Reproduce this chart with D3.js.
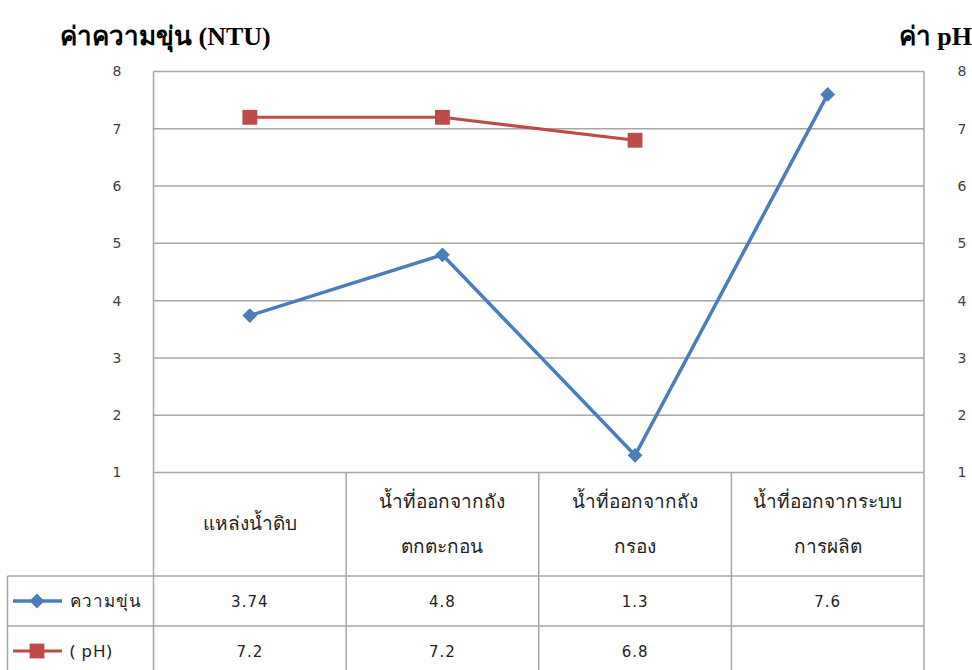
<!DOCTYPE html>
<html>
<head>
<meta charset="utf-8">
<script src="https://cdn.jsdelivr.net/npm/d3@7"></script>
<style>
  body { margin: 0; background: #fff; }
  svg { display: block; }
</style>
</head>
<body>
<svg id="chart" width="972" height="670"></svg>
<script>
const categories = [
  ['แหล่งน้ำดิบ'],
  ['น้ำที่ออกจากถัง', 'ตกตะกอน'],
  ['น้ำที่ออกจากถัง', 'กรอง'],
  ['น้ำที่ออกจากระบบ', 'การผลิต']
];
const turbidity = [3.74, 4.8, 1.3, 7.6];
const ph = [7.2, 7.2, 6.8, null];
const yTicks = [1, 2, 3, 4, 5, 6, 7, 8];
const seriesNames = ['ความขุ่น', '( pH)'];

const blue = '#4a7ebb';
const red = '#be4b48';
const grid_color = '#a6a6a6';
const label_font = '"DejaVu Sans", Tahoma, sans-serif';
const thai_font = 'Tahoma, "Noto Sans", "DejaVu Sans", sans-serif';

const plot_left = 153.5, plot_right = 924, plot_top = 71.5, plot_bottom = 472.5;
const header_bottom = 576, row_h = 50, table_left = 7.5;

const svg = d3.select('#chart');

const x = d3.scaleBand()
  .domain(d3.range(categories.length))
  .range([plot_left, plot_right]);

const y = d3.scaleLinear().domain([1, 8]).range([plot_bottom, plot_top]);
const y2 = d3.scaleLinear().domain([1, 8]).range([plot_bottom, plot_top]);

// gridlines
svg.append('g')
  .selectAll('line')
  .data(yTicks)
  .join('line')
  .attr('x1', plot_left).attr('x2', plot_right)
  .attr('y1', d => y(d)).attr('y2', d => y(d))
  .attr('stroke', grid_color).attr('stroke-width', 1.5);

// plot border (left & right)
svg.append('line')
  .attr('x1', plot_left).attr('x2', plot_left)
  .attr('y1', plot_top).attr('y2', 670)
  .attr('stroke', grid_color).attr('stroke-width', 1.5);
svg.append('line')
  .attr('x1', plot_right).attr('x2', plot_right)
  .attr('y1', plot_top).attr('y2', 670)
  .attr('stroke', grid_color).attr('stroke-width', 1.5);

// axis tick labels
const leftAxis = d3.axisLeft(y).tickValues(yTicks).tickFormat(d3.format('d')).tickSize(0).tickPadding(0);
svg.append('g')
  .attr('transform', 'translate(117,0)')
  .call(leftAxis)
  .call(g => g.select('.domain').remove())
  .call(g => g.selectAll('text')
    .attr('text-anchor', 'middle')
    .attr('font-family', label_font).attr('font-size', 14).attr('fill', '#404040'));

const rightAxis = d3.axisRight(y2).tickValues(yTicks).tickFormat(d3.format('d')).tickSize(0).tickPadding(0);
svg.append('g')
  .attr('transform', 'translate(962,0)')
  .call(rightAxis)
  .call(g => g.select('.domain').remove())
  .call(g => g.selectAll('text')
    .attr('text-anchor', 'middle')
    .attr('font-family', label_font).attr('font-size', 14).attr('fill', '#404040'));

// titles
svg.append('text')
  .attr('x', 60).attr('y', 45)
  .attr('font-family', '"Liberation Serif", "Times New Roman", serif')
  .attr('font-weight', 'bold').attr('font-size', 26)
  .text('ค่าความขุ่น (NTU)');
svg.append('text')
  .attr('x', 972).attr('y', 45).attr('text-anchor', 'end')
  .attr('font-family', '"Liberation Serif", "Times New Roman", serif')
  .attr('font-weight', 'bold').attr('font-size', 26)
  .text('ค่า pH');

// data table lines
const table = svg.append('g').attr('stroke', grid_color).attr('stroke-width', 1.5);
[header_bottom, header_bottom + row_h].forEach(yy => {
  table.append('line').attr('x1', table_left).attr('x2', plot_right).attr('y1', yy).attr('y2', yy);
});
table.append('line').attr('x1', table_left).attr('x2', table_left).attr('y1', header_bottom).attr('y2', 670);
table.selectAll('line.col')
  .data(d3.range(1, categories.length))
  .join('line')
  .attr('class', 'col')
  .attr('x1', d => x(d)).attr('x2', d => x(d))
  .attr('y1', plot_bottom).attr('y2', 670);

// category headers
const header_mid = (plot_bottom + header_bottom) / 2;
categories.forEach((lines, i) => {
  const t = svg.append('text')
    .attr('text-anchor', 'middle')
    .attr('font-family', thai_font).attr('font-size', 19).attr('fill', '#222');
  lines.forEach((ln, j) => {
    t.append('tspan')
      .attr('x', x(i) + x.bandwidth() / 2)
      .attr('y', header_mid + 6 + (j - (lines.length - 1) / 2) * 45)
      .text(ln);
  });
});

// table values
[turbidity, ph].forEach((vals, r) => {
  svg.append('g')
    .selectAll('text')
    .data(vals)
    .join('text')
    .attr('x', (d, i) => x(i) + x.bandwidth() / 2)
    .attr('y', header_bottom + row_h * r + row_h / 2 + 6)
    .attr('text-anchor', 'middle')
    .attr('font-family', label_font).attr('font-size', 15).attr('fill', '#222')
    .attr('letter-spacing', 1)
    .text(d => d == null ? '' : d);
});

// legend keys
const diamond = d3.symbol().type(d3.symbolDiamond2).size(140);
const square = d3.symbol().type(d3.symbolSquare2).size(280);
[[blue, diamond, 3.5], [red, square, 3]].forEach(([c, sym, w], r) => {
  const cy = header_bottom + row_h * r + row_h / 2;
  svg.append('line').attr('x1', 13).attr('x2', 62).attr('y1', cy).attr('y2', cy)
    .attr('stroke', c).attr('stroke-width', w);
  svg.append('path').attr('d', sym).attr('transform', `translate(37,${cy})`).attr('fill', c);
  svg.append('text')
    .attr('x', 70).attr('y', cy + 6)
    .attr('font-family', thai_font).attr('font-size', 17).attr('fill', '#222')
    .attr('letter-spacing', 1)
    .text(seriesNames[r]);
});

// series
const cx = i => x(i) + x.bandwidth() / 2;
const line = d3.line().defined(d => d.v != null).x(d => cx(d.i)).y(d => d.s(d.v));

const phData = ph.map((v, i) => ({i, v, s: y2}));
svg.append('path').datum(phData)
  .attr('d', line).attr('fill', 'none').attr('stroke', red).attr('stroke-width', 3);
svg.append('g').selectAll('path')
  .data(phData.filter(d => d.v != null))
  .join('path')
  .attr('d', square)
  .attr('transform', d => `translate(${cx(d.i)},${y2(d.v)})`)
  .attr('fill', red);

const tData = turbidity.map((v, i) => ({i, v, s: y}));
svg.append('path').datum(tData)
  .attr('d', line).attr('fill', 'none').attr('stroke', blue).attr('stroke-width', 3.5);
svg.append('g').selectAll('path')
  .data(tData)
  .join('path')
  .attr('d', diamond)
  .attr('transform', d => `translate(${cx(d.i)},${y(d.v)})`)
  .attr('fill', blue);
</script>
</body>
</html>
